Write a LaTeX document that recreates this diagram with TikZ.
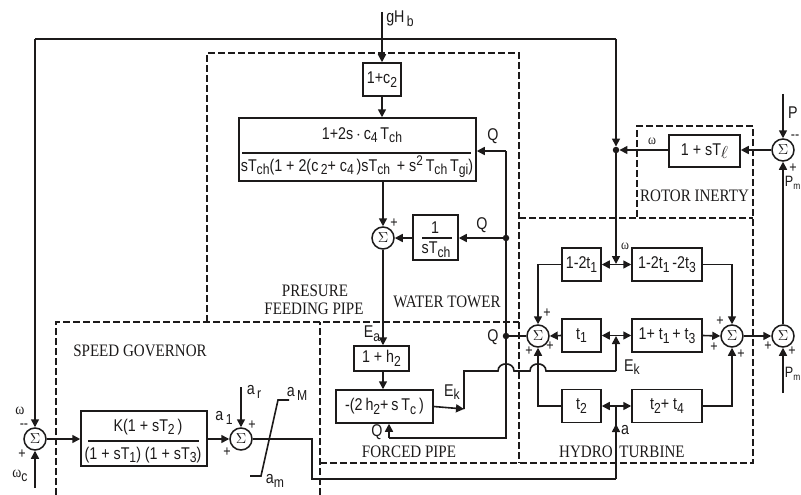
\documentclass[tikz,border=0pt]{standalone}
\usepackage{fontspec}
\usepackage{graphicx}
\setmainfont{Liberation Sans}
\newfontfamily\lab[FakeStretch=0.84]{Liberation Sans}
\newfontfamily\ser[FakeStretch=0.86]{Liberation Serif}
\usetikzlibrary{arrows.meta}
\definecolor{ink}{HTML}{1C1A1A}
\newcommand\dn[1]{\raisebox{-0.4ex}{\fontsize{14.5}{15}\selectfont #1}}
\newcommand\upp[1]{\raisebox{0.6ex}{\fontsize{14}{15}\selectfont #1}}
\newcommand\tinym{\raisebox{-0.4ex}{\fontsize{10}{10}\selectfont m}}
\tikzset{
  wire/.style={line width=1.6pt,draw=ink},
  ar/.style={line width=1.6pt,draw=ink,-{Triangle[length=8pt,width=8pt]}},
  dar/.style={line width=1.6pt,draw=ink,{Triangle[length=8pt,width=8pt]}-{Triangle[length=8pt,width=8pt]}},
  dsh/.style={line width=1.3pt,draw=ink,dash pattern=on 7pt off 3pt},
  blk/.style={draw=ink,line width=1.5pt,inner sep=0pt,fill=white,font=\lab\fontsize{17}{18}\selectfont,text=ink},
  sumn/.style={circle,draw=ink,line width=1.5pt,minimum size=22pt,inner sep=0pt,fill=white,text=ink},
  dotn/.style={circle,fill=ink,inner sep=0pt,minimum size=6.5pt},
  txt/.style={inner sep=0pt,text=ink,font=\lab\fontsize{17}{18}\selectfont},
  sgn/.style={inner sep=0pt,text=ink,font=\lab\fontsize{15}{15}\selectfont},
  captxt/.style={inner sep=0pt,text=ink,font=\ser\fontsize{17.5}{18}\selectfont},
  fracl/.style={line width=1.4pt,draw=ink}
}
\newcommand\sg{\raisebox{-0.1ex}{\scalebox{1.45}{$\Sigma$}}}
\begin{document}
\begin{tikzpicture}[x=1pt,y=-1pt]
\useasboundingbox (0,0) rectangle (801,495);
\clip (0,0) rectangle (801,495);
% dashed regions
\draw[dsh] (207,322) -- (207,53) -- (519,53) -- (519,463);
\draw[dsh] (56,495) -- (56,322) -- (519,322);
\draw[dsh] (320,495) -- (320,322);
\draw[dsh] (320,463) -- (753,463) -- (753,126) -- (637,126) -- (637,218);
\draw[dsh] (519,218) -- (753,218);
% coordinates
\coordinate (gtop) at (382,12);
\coordinate (tl) at (35,39);
\coordinate (tr) at (616,39);
\coordinate (qb) at (506,151);
\coordinate (qc) at (506,438);
\coordinate (qi) at (389,438);
\coordinate (wj) at (616,264);
\coordinate (ej) at (616,336);
\coordinate (aj) at (616,406);
\coordinate (ab) at (616,479);
\coordinate (am) at (616,424);
\coordinate (pt) at (783,94);
\coordinate (pb) at (783,393);
\coordinate (wc) at (35,488);
\coordinate (ar1) at (241,387);
\coordinate (k1) at (464,409);
\coordinate (k2) at (464,371);
\coordinate (k3) at (616,371);
% blocks
\node[blk,minimum width=38pt,minimum height=33pt] (c2) at (382,79.5) {1+c\dn{2}};
\node[blk,minimum width=237pt,minimum height=63pt] (big) at (357.5,149.5) {};
\node[blk,minimum width=45pt,minimum height=45pt] (tch) at (435.5,237.5) {};
\node[blk,minimum width=55pt,minimum height=25pt] (h2) at (381.5,358.5) {1 + h\dn{2}};
\node[blk,minimum width=97pt,minimum height=33pt] (ft) at (384.5,406.5) {-(2\,h\dn{2}+\,s\,T\dn{c}\,)};
\node[blk,minimum width=126pt,minimum height=55pt] (kb) at (144,438.5) {};
\node[blk,minimum width=39pt,minimum height=33pt] (a1) at (581.5,264.5) {1-2t\dn{1}};
\node[blk,minimum width=70pt,minimum height=33pt] (a2) at (667,264.5) {1-2t\dn{1}\,-2t\dn{3}};
\node[blk,minimum width=39pt,minimum height=33pt] (b1) at (581.5,335.5) {t\dn{1}};
\node[blk,minimum width=70pt,minimum height=33pt] (b2) at (667,335.5) {1+ t\dn{1}\,+ t\dn{3}};
\node[blk,minimum width=39pt,minimum height=33pt] (c1) at (581.5,406) {t\dn{2}};
\node[blk,minimum width=70pt,minimum height=33pt] (c3) at (667,406) {t\dn{2}+ t\dn{4}};
\node[blk,minimum width=71pt,minimum height=32pt] (rot) at (704.5,151) {1 + sT\raisebox{-0.3ex}{$\ell$}};
% summing junctions
\node[sumn] (s1) at (383,238) {\sg};
\node[sumn] (s2) at (35,439) {\sg};
\node[sumn] (s3) at (241,439) {\sg};
\node[sumn] (s4) at (538,336) {\sg};
\node[sumn] (s5) at (732,336) {\sg};
\node[sumn] (s6) at (783,336) {\sg};
\node[sumn] (s7) at (783,150) {\sg};
\node[dotn] (dw) at (616,150) {};
\node[dotn] (d1) at (506,238) {};
\node[dotn] (d2) at (506,336) {};
% connectors
\draw[ar] (gtop) -- (c2.north);
\draw[ar] (c2.south) -- (c2.south |- big.north);
\draw[ar] (s1.north |- big.south) -- (s1.north);
\draw[ar] (tch.west |- s1.east) -- (s1.east);
\draw[ar] (d1) -- (tch.east |- d1);
\draw[ar] (qb) -- (big.east |- qb);
\draw[wire] (qb) -- (qc) -- (qi);
\draw[ar] (qi) -- (qi |- ft.south);
\draw[wire] (d2) -- (s4.west);
\draw[ar] (s1.south) -- (s1.south |- h2.north);
\draw[ar] (s1.south |- h2.south) -- (s1.south |- ft.north);
\draw[ar] (ft.east) -- (k1);
\draw[wire] (k1) -- (k2) -- (498,371) .. controls (498,361.5) and (514,361.5) .. (514,371) -- (530,371) .. controls (530,361.5) and (546,361.5) .. (546,371) -- (k3);
\draw[ar] (k3) -- (ej);
% top and left feedback
\draw[ar] (tr) -- (dw.north);
\draw[ar] (dw.south) -- (wj);
\draw[wire] (tl) -- (tr);
\draw[ar] (tl) -- (s2.north);
\draw[ar] (wc) -- (s2.south);
\draw[ar] (s2.east) -- (kb.west |- s2.east);
\draw[ar] (kb.east |- s3.west) -- (s3.west);
\draw[ar] (ar1) -- (s3.north);
\draw[wire] (s3.east) -- (312,439) -- (312,479) -- (ab);
\draw[wire] (ab) -- (aj);
\draw[ar] (ab) -- (am);
% turbine
\draw[dar] (a1.east) -- (a2.west);
\draw[dar] (b1.east) -- (b2.west);
\draw[dar] (c1.east) -- (c3.west);
\draw[ar] (a1.west) -| (s4.north);
\draw[ar] (b1.west) -- (s4.east);
\draw[ar] (c1.west) -| (s4.south);
\draw[ar] (a2.east) -| (s5.north);
\draw[ar] (b2.east) -- (s5.west);
\draw[ar] (c3.east) -| (s5.south);
\draw[ar] (s5.east) -- (s6.west);
\draw[ar] (s6.north) -- (s7.south);
\draw[ar] (pb) -- (s6.south);
\draw[ar] (pt) -- (s7.north);
\draw[ar] (s7.west) -- (rot.east |- s7.west);
\draw[ar] (rot.west |- dw) -- (dw.east);
% saturation
\draw[wire] (250,476) -- (261,476) -- (278,400) -- (289,400);
% fractions
\draw[fracl] (242,153) -- (471,153);
\draw[fracl] (422,238) -- (452,238);
\draw[fracl] (88,441) -- (199,441);
\node[txt] (n1) at (362,135) {1+2s\,$\cdot$\,c\dn{4}\,T\dn{ch}};
\node[txt] (n2) at (357,167) {sT\dn{ch}(1 + 2(c\dn{\,2}+ c\dn{4}\,)sT\dn{ch} \,+ s\upp{2}\,T\dn{ch}\,T\dn{gi})};
\node[txt] (n3) at (435,228) {1};
\node[txt] (n4) at (436,250) {sT\dn{ch}};
\node[txt] (n5) at (148,427) {K(1 + sT\dn{2}\,)};
\node[txt] (n6) at (143,455) {(1 + sT\dn{1}) (1 + sT\dn{3})};
% labels
\node[txt] (l1) at (400,19) {gH\dn{\,b}};
\node[txt] (l2) at (493,136) {Q};
\node[txt] (l3) at (482,225) {Q};
\node[txt] (l4) at (493,337) {Q};
\node[txt] (l5) at (377,432) {Q};
\node[txt] (l6) at (372,334) {E\dn{a}};
\node[txt] (l7) at (452,392) {E\dn{k}};
\node[txt] (l8) at (632,367) {E\dn{k}};
\node[txt] (l9) at (625,430) {a};
\node[txt] (l10) at (224,418) {a\dn{\,1}};
\node[txt] (l11) at (254,392) {a\dn{\,r}};
\node[txt] (l12) at (297,394) {a\dn{\,M}};
\node[txt] (l13) at (275,481) {a\dn{m}};
\node[txt] (l14) at (793,113) {P};
\node[txt,anchor=east,font=\lab\fontsize{15}{15}\selectfont] (l15) at (800.5,183) {P\tinym};
\node[txt,anchor=east,font=\lab\fontsize{15}{15}\selectfont] (l16) at (800.5,374) {P\tinym};
\node[txt,font=\ser\fontsize{16}{16}\selectfont] (l17) at (20,411) {ω};
\node[txt] (l18) at (20,476) {{\ser\fontsize{16}{16}\selectfont ω}\dn{c}};
\node[txt,font=\ser\fontsize{14}{14}\selectfont] (l19) at (625,246) {ω};
\node[txt,font=\ser\fontsize{14}{14}\selectfont] (l20) at (652,141) {ω};
% signs
\node[sgn] (p1) at (394,223) {+};
\node[sgn] (p2) at (24,426) {--};
\node[sgn] (p3) at (22,454) {+};
\node[sgn] (p4) at (252,425) {+};
\node[sgn] (p5) at (227,452) {+};
\node[sgn] (p6) at (547,313) {+};
\node[sgn] (p7) at (550,346) {+};
\node[sgn] (p8) at (529,351) {+};
\node[sgn] (p9) at (720,321) {+};
\node[sgn] (p10) at (714,347) {+};
\node[sgn] (p11) at (741,354) {+};
\node[sgn] (p12) at (768,346) {+};
\node[sgn] (p13) at (792,351) {+};
\node[sgn] (p14) at (795,137) {--};
\node[sgn] (p15) at (793,168) {+};
% captions
\node[captxt] (t1) at (315,291) {PRESURE};
\node[captxt] (t2) at (314,309) {FEEDING PIPE};
\node[captxt] (t3) at (447,302) {WATER TOWER};
\node[captxt] (t4) at (140,351) {SPEED GOVERNOR};
\node[captxt] (t5) at (409,452) {FORCED PIPE};
\node[captxt] (t6) at (586,452) {HYDRO};
\node[captxt] (t7) at (652,452) {TURBINE};
\node[captxt] (t8) at (694.5,196) {ROTOR INERTY};
\end{tikzpicture}
\end{document}
